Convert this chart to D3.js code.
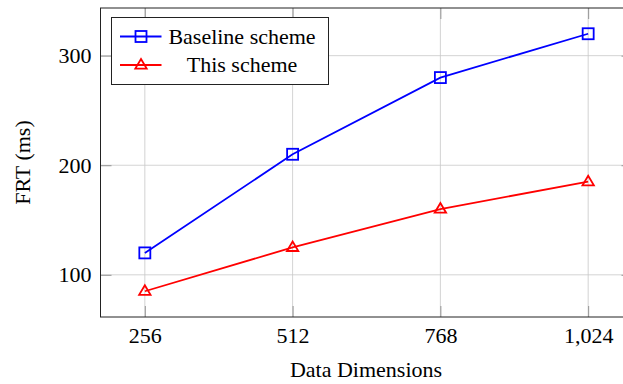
<!DOCTYPE html>
<html>
<head>
<meta charset="utf-8">
<script src="https://cdn.jsdelivr.net/npm/d3@7"></script>
<style>
  body { margin: 0; background: #fff; }
  svg { display: block; }
  text { font-family: "Liberation Serif", "Times New Roman", serif; fill: #000; }
</style>
</head>
<body>
<svg id="chart" width="623" height="384"></svg>
<script>
// data
var dims = [256, 512, 768, 1024];
var baseline = [120, 210, 280, 320];
var thisScheme = [85, 125, 160, 185];
var xTicks = [256, 512, 768, 1024];
var yTicks = [100, 200, 300];

var series = [
  { name: 'Baseline scheme', values: baseline, color: '#0000ff', marker: 'square' },
  { name: 'This scheme', values: thisScheme, color: '#ff0000', marker: 'triangle' }
];

// plot frame (the right edge runs off the picture, like the original)
var pLeft = 100.5, pRight = 632.5, pTop = 8, pBottom = 317;
var fontSize = '22px';
var serif = '"Liberation Serif", "Times New Roman", serif';

var svg = d3.select('#chart');

// pgfplots style: enlarge limits by 10% of the data range
var xmin = d3.min(dims), xmax = d3.max(dims);
var xpad = (xmax - xmin) * 0.1;
var x = d3.scaleLinear().domain([xmin - xpad, xmax + xpad]).range([pLeft, pRight]);

var allY = baseline.concat(thisScheme);
var ymin = d3.min(allY), ymax = d3.max(allY);
var ypad = (ymax - ymin) * 0.1;
var y = d3.scaleLinear().domain([ymin - ypad, ymax + ypad]).range([pBottom, pTop]);

var fmt = d3.format(',');

// grid
var grid = svg.append('g');
grid.selectAll('.vg').data(xTicks).enter().append('line')
  .attr('x1', function (d) { return x(d); }).attr('x2', function (d) { return x(d); })
  .attr('y1', pTop).attr('y2', pBottom)
  .attr('stroke', '#c8c8c8').attr('stroke-width', 0.8);
grid.selectAll('.hg').data(yTicks).enter().append('line')
  .attr('y1', function (d) { return y(d); }).attr('y2', function (d) { return y(d); })
  .attr('x1', pLeft).attr('x2', pRight)
  .attr('stroke', '#c8c8c8').attr('stroke-width', 0.8);

// axes, ticks point inward on all four sides
var tickLen = 11;
var xAxisB = d3.axisBottom(x).tickValues(xTicks).tickSize(-tickLen).tickPadding(10).tickFormat(fmt);
var xAxisT = d3.axisTop(x).tickValues(xTicks).tickSize(-tickLen).tickFormat('');
var yAxisL = d3.axisLeft(y).tickValues(yTicks).tickSize(-tickLen).tickPadding(9).tickFormat(fmt);
var yAxisR = d3.axisRight(y).tickValues(yTicks).tickSize(-tickLen).tickFormat('');

function styleAxis(g) {
  g.attr('font-family', serif);
  g.select('.domain').remove();
  g.selectAll('.tick line').attr('stroke', '#7f7f7f').attr('stroke-width', 0.8);
  g.selectAll('.tick text')
    .style('font-family', serif)
    .style('font-size', fontSize).attr('fill', '#000');
}

svg.append('g').attr('transform', 'translate(0,' + pBottom + ')').call(xAxisB).call(styleAxis);
svg.append('g').attr('transform', 'translate(0,' + pTop + ')').call(xAxisT).call(styleAxis);
svg.append('g').attr('transform', 'translate(' + pLeft + ',0)').call(yAxisL).call(styleAxis);
svg.append('g').attr('transform', 'translate(' + pRight + ',0)').call(yAxisR).call(styleAxis);

// frame
svg.append('rect')
  .attr('x', pLeft).attr('y', pTop)
  .attr('width', pRight - pLeft).attr('height', pBottom - pTop)
  .attr('fill', 'none').attr('stroke', '#222').attr('stroke-width', 1);

// markers
function drawMarker(g, kind, cx, cy, color) {
  if (kind === 'square') {
    g.append('rect')
      .attr('x', cx - 5.5).attr('y', cy - 5.5)
      .attr('width', 11).attr('height', 11)
      .attr('fill', 'none').attr('stroke', color).attr('stroke-width', 1.8);
  } else {
    var s = 6;
    g.append('path')
      .attr('d', 'M' + cx + ',' + (cy - s) + 'L' + (cx + s * 0.95) + ',' + (cy + s * 0.6) +
                 'L' + (cx - s * 0.95) + ',' + (cy + s * 0.6) + 'Z')
      .attr('fill', 'none').attr('stroke', color).attr('stroke-width', 1.8)
      .attr('stroke-linejoin', 'miter');
  }
}

var line = d3.line()
  .x(function (d, i) { return x(dims[i]); })
  .y(function (d) { return y(d); });

series.forEach(function (s) {
  var g = svg.append('g');
  g.append('path')
    .attr('d', line(s.values))
    .attr('fill', 'none').attr('stroke', s.color).attr('stroke-width', 1.8);
  s.values.forEach(function (v, i) {
    drawMarker(g, s.marker, x(dims[i]), y(v), s.color);
  });
});

// legend
var lg = svg.append('g');
var lx = 111.5, ly = 17.5, lw = 217, lh = 67;
lg.append('rect')
  .attr('x', lx).attr('y', ly).attr('width', lw).attr('height', lh)
  .attr('fill', '#fff').attr('stroke', '#222').attr('stroke-width', 1);
series.forEach(function (s, i) {
  var cy = ly + 19 + i * 28.5;
  lg.append('line')
    .attr('x1', lx + 8.5).attr('x2', lx + 50)
    .attr('y1', cy).attr('y2', cy)
    .attr('stroke', s.color).attr('stroke-width', 1.8);
  drawMarker(lg, s.marker, lx + 29.5, cy, s.color);
  lg.append('text')
    .attr('x', 242).attr('y', cy + 7)
    .attr('text-anchor', 'middle')
    .style('font-family', serif)
    .style('font-size', fontSize)
    .text(s.name);
});

// axis labels
svg.append('text')
  .attr('x', 366).attr('y', 377)
  .attr('text-anchor', 'middle')
  .style('font-family', serif)
  .style('font-size', fontSize)
  .text('Data Dimensions');

svg.append('text')
  .attr('transform', 'translate(30,162.5) rotate(-90)')
  .attr('text-anchor', 'middle')
  .style('font-family', serif)
  .style('font-size', fontSize)
  .text('FRT (ms)');
</script>
</body>
</html>
